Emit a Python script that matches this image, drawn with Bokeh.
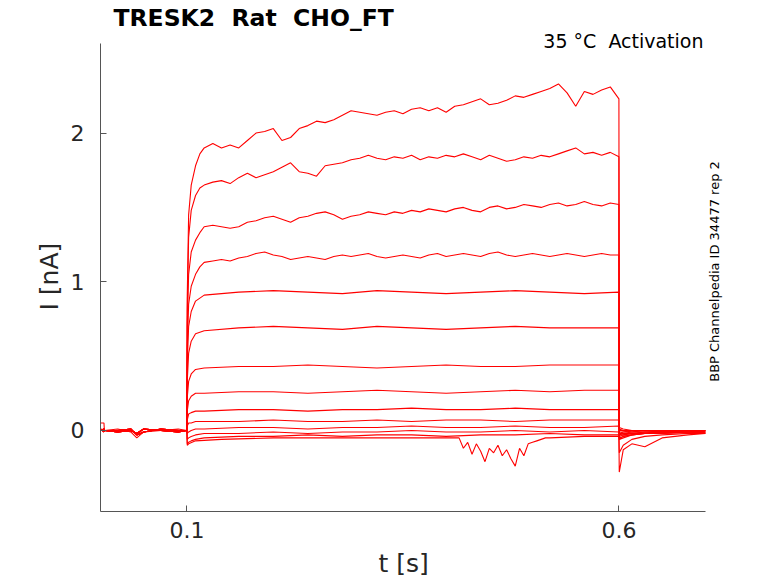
import math

from bokeh.plotting import figure
from bokeh.models import Range1d, FixedTicker, Label, Title
from bokeh.embed import file_html
from bokeh.resources import INLINE

# sample times [s]
t_pre = [0.0, 0.004, 0.0045, 0.02, 0.035, 0.042, 0.05, 0.07, 0.09, 0.0999]
t_fine = [0.1, 0.1004, 0.102, 0.105, 0.11, 0.115,
          0.12, 0.13, 0.14, 0.15, 0.16, 0.17, 0.18, 0.19, 0.20, 0.21,
          0.22, 0.23, 0.24, 0.25, 0.26, 0.27, 0.28, 0.29, 0.30, 0.31,
          0.32, 0.33, 0.34, 0.35, 0.36, 0.37, 0.38, 0.39, 0.40, 0.41,
          0.42, 0.43, 0.44, 0.45, 0.46, 0.47, 0.48, 0.49, 0.50, 0.51,
          0.52, 0.53, 0.54, 0.55, 0.56, 0.57, 0.58, 0.59, 0.60]
t_coarse = [0.1, 0.1004, 0.102, 0.105, 0.11, 0.12, 0.16, 0.20, 0.24,
            0.28, 0.32, 0.36, 0.40, 0.44, 0.48, 0.52, 0.56, 0.60]
t_burst = [0.1, 0.1004, 0.102, 0.11, 0.14, 0.20, 0.26, 0.32, 0.38, 0.415,
           0.42, 0.425, 0.43, 0.435, 0.44, 0.445, 0.45, 0.455, 0.46, 0.465,
           0.47, 0.475, 0.48, 0.485, 0.49, 0.495, 0.50, 0.505, 0.51, 0.515,
           0.52, 0.56, 0.60]
t_post = [0.6004, 0.605, 0.615, 0.63, 0.65, 0.68, 0.70]

# holding current before the step [nA]
pre_a = [0.05, 0.05, 0.0, 0.01, -0.01, -0.05, -0.01, 0.0, 0.01, 0.0]
pre_b = [0.0, 0.01, 0.0, -0.01, 0.0, -0.02, 0.01, 0.0, -0.01, 0.0]
pre_c = [0.01, -0.01, 0.0, 0.0, 0.01, -0.03, -0.01, 0.01, 0.0, 0.0]

# currents during the step [nA]
i1 = [0.0, 0.9, 1.45, 1.65, 1.78, 1.86,
      1.90, 1.93, 1.90, 1.92, 1.90, 1.95, 2.00, 2.01, 2.03, 1.95,
      1.97, 2.03, 2.05, 2.08, 2.07, 2.09, 2.12, 2.15, 2.14, 2.13,
      2.12, 2.14, 2.15, 2.13, 2.16, 2.17, 2.15, 2.17, 2.14, 2.18,
      2.19, 2.21, 2.23, 2.19, 2.20, 2.22, 2.25, 2.24, 2.26, 2.28,
      2.30, 2.33, 2.27, 2.18, 2.28, 2.26, 2.29, 2.31, 2.23]
i2 = [0.0, 0.8, 1.3, 1.48, 1.58, 1.63,
      1.65, 1.67, 1.68, 1.66, 1.70, 1.73, 1.70, 1.72, 1.74, 1.77,
      1.80, 1.74, 1.73, 1.71, 1.78, 1.79, 1.80, 1.82, 1.83, 1.85,
      1.83, 1.82, 1.84, 1.83, 1.85, 1.82, 1.84, 1.83, 1.85, 1.84,
      1.86, 1.84, 1.82, 1.85, 1.83, 1.81, 1.82, 1.84, 1.83, 1.85,
      1.84, 1.86, 1.88, 1.90, 1.86, 1.87, 1.85, 1.87, 1.84]
i3 = [0.0, 0.7, 1.05, 1.2, 1.28, 1.33,
      1.37, 1.38, 1.37, 1.36, 1.37, 1.40, 1.41, 1.43, 1.44, 1.42,
      1.40, 1.43, 1.44, 1.46, 1.47, 1.45, 1.42, 1.44, 1.45, 1.47,
      1.46, 1.45, 1.47, 1.46, 1.48, 1.47, 1.49, 1.48, 1.47, 1.49,
      1.50, 1.48, 1.47, 1.50, 1.51, 1.49, 1.50, 1.52, 1.51, 1.50,
      1.52, 1.53, 1.51, 1.52, 1.54, 1.52, 1.51, 1.53, 1.52]
i4 = [0.0, 0.55, 0.85, 0.97, 1.05, 1.10,
      1.13, 1.14, 1.15, 1.14, 1.16, 1.17, 1.19, 1.20, 1.18, 1.17,
      1.15, 1.16, 1.17, 1.16, 1.15, 1.17, 1.18, 1.17, 1.18, 1.19,
      1.17, 1.16, 1.17, 1.18, 1.17, 1.16, 1.18, 1.19, 1.17, 1.18,
      1.19, 1.18, 1.17, 1.19, 1.20, 1.18, 1.17, 1.18, 1.19, 1.18,
      1.17, 1.18, 1.19, 1.18, 1.17, 1.18, 1.19, 1.18, 1.18]
i5 = [0.0, 0.45, 0.70, 0.80, 0.87, 0.91, 0.93, 0.94, 0.93, 0.92, 0.94, 0.93, 0.92, 0.93, 0.94, 0.93, 0.92, 0.93]
i6 = [0.0, 0.33, 0.52, 0.60, 0.65, 0.67, 0.69, 0.70, 0.69, 0.68, 0.70, 0.69, 0.68, 0.69, 0.70, 0.69, 0.69, 0.69]
i7 = [0.0, 0.22, 0.33, 0.38, 0.41, 0.42, 0.43, 0.43, 0.44, 0.43, 0.42, 0.43, 0.44, 0.43, 0.43, 0.44, 0.44, 0.44]
i8 = [0.0, 0.13, 0.20, 0.23, 0.25, 0.25, 0.26, 0.26, 0.25, 0.26, 0.27, 0.26, 0.25, 0.26, 0.27, 0.26, 0.27, 0.27]
i9 = [0.0, 0.07, 0.11, 0.12, 0.13, 0.13, 0.14, 0.14, 0.13, 0.14, 0.14, 0.15, 0.14, 0.14, 0.15, 0.14, 0.14, 0.14]
i10 = [0.0, 0.03, 0.05, 0.05, 0.06, 0.06, 0.06, 0.07, 0.06, 0.06, 0.07, 0.06, 0.07, 0.07, 0.06, 0.07, 0.07, 0.07]
i11 = [0.0, -0.02, -0.01, 0.0, 0.01, 0.01, 0.02, 0.02, 0.01, 0.02, 0.02, 0.03, 0.02, 0.02, 0.03, 0.02, 0.02, 0.03]
i12 = [0.0, -0.06, -0.05, -0.04, -0.03, -0.02, -0.02, -0.01, -0.02, -0.01, -0.01, 0.0, -0.01, -0.01, 0.0, -0.01, 0.0, -0.01]
i13 = [0.0, -0.09, -0.08, -0.07, -0.06, -0.05, -0.04, -0.04, -0.03, -0.04, -0.03, -0.03, -0.04, -0.03, -0.03, -0.02, -0.03, -0.03]
i14 = [0.0, -0.10, -0.09, -0.07, -0.06, -0.05, -0.05, -0.05, -0.05, -0.05,
       -0.12, -0.08, -0.16, -0.09, -0.14, -0.21, -0.12, -0.15, -0.10, -0.17,
       -0.13, -0.19, -0.24, -0.12, -0.17, -0.09, -0.08, -0.07, -0.06, -0.05,
       -0.05, -0.04, -0.04]

# tail currents after the step [nA]
post1 = [-0.06, -0.04, -0.03, -0.02, -0.02, -0.01, -0.02]
post2 = [-0.05, -0.04, -0.03, -0.02, -0.01, -0.02, -0.01]
post3 = [-0.04, -0.03, -0.02, -0.02, -0.01, -0.01, -0.01]
post4 = [-0.03, -0.03, -0.02, -0.01, -0.02, -0.01, -0.01]
post5 = [-0.03, -0.02, -0.02, -0.01, -0.01, -0.01, 0.0]
post6 = [-0.02, -0.02, -0.01, -0.01, -0.01, 0.0, -0.01]
post7 = [-0.02, -0.01, -0.01, 0.0, -0.01, 0.0, 0.0]
post8 = [-0.01, -0.01, 0.0, 0.0, -0.01, 0.0, 0.0]
post9 = [0.0, 0.0, -0.01, 0.0, 0.0, -0.01, 0.0]
post10 = [0.01, 0.0, 0.0, 0.0, -0.01, 0.0, 0.0]
post11 = [0.02, 0.01, 0.0, 0.0, 0.0, 0.0, -0.01]
post12 = [-0.06, -0.05, -0.03, -0.02, -0.02, -0.01, -0.01]
post13 = [-0.15, -0.10, -0.06, -0.04, -0.03, -0.02, -0.02]
post14 = [-0.28, -0.13, -0.09, -0.11, -0.05, -0.03, -0.02]

x_ticks = [0.1, 0.6]
y_ticks = [0, 1, 2]
x_axis_span = (0.0, 0.7)
y_axis_span = (-0.545, 2.6)

traces = [
    (pre_a, t_fine, i1, post1),
    (pre_b, t_fine, i2, post2),
    (pre_c, t_fine, i3, post3),
    (pre_b, t_fine, i4, post4),
    (pre_c, t_coarse, i5, post5),
    (pre_b, t_coarse, i6, post6),
    (pre_c, t_coarse, i7, post7),
    (pre_b, t_coarse, i8, post8),
    (pre_c, t_coarse, i9, post9),
    (pre_b, t_coarse, i10, post10),
    (pre_c, t_coarse, i11, post11),
    (pre_b, t_coarse, i12, post12),
    (pre_c, t_coarse, i13, post13),
    (pre_b, t_burst, i14, post14),
]

# frame reaches the top/right canvas edges so the texts there are not clipped;
# the axes themselves are cut to the real data span with `bounds`
p = figure(width=778, height=583, output_backend="svg", toolbar_location=None,
           x_range=Range1d(0.0, 0.7847), y_range=Range1d(-0.545, 2.8913),
           min_border_left=100, min_border_right=0,
           min_border_top=0, min_border_bottom=71)
p.outline_line_color = None
p.grid.visible = False

for pre, ts, vs, post in traces:
    xs = t_pre + ts + t_post
    ys = pre + vs + post
    p.line(xs, ys, color="#ff0000", line_width=1.1)

font = "DejaVu Sans"
for ax in (p.xaxis[0], p.yaxis[0]):
    ax.axis_line_color = "#555555"
    ax.major_tick_line_color = "#555555"
    ax.major_tick_in = 6
    ax.major_tick_out = 0
    ax.minor_tick_line_color = None
    ax.major_label_text_font = font
    ax.major_label_text_font_size = "22px"
    ax.major_label_text_color = "#262626"

p.xaxis.bounds = x_axis_span
p.yaxis.bounds = y_axis_span
p.xaxis.ticker = FixedTicker(ticks=x_ticks)
p.yaxis.ticker = FixedTicker(ticks=y_ticks)
p.xaxis.major_label_standoff = 10
p.yaxis.major_label_standoff = 16

# axis names as titles, so they can be centred on the axis span, not the frame
p.add_layout(Title(text="t [s]", align="left", offset=278, standoff=12,
                   text_font=font, text_font_size="25px", text_font_style="normal",
                   text_color="#262626"), "below")
p.add_layout(Title(text="I [nA]", align="left", offset=201, standoff=8,
                   text_font=font, text_font_size="25px", text_font_style="normal",
                   text_color="#262626"), "left")

p.add_layout(Label(x=0.015, y=2.772, text="TRESK2\u00a0 Rat\u00a0 CHO_FT",
                   text_font=font, text_font_size="23.5px", text_font_style="bold",
                   text_color="black", text_baseline="alphabetic"))
p.add_layout(Label(x=0.6979, y=2.62, text="35 °C\u00a0 Activation",
                   text_font=font, text_font_size="19px", text_color="black",
                   text_align="right", text_baseline="alphabetic"))
p.add_layout(Label(x=0.7106, y=1.069, text="BBP Channelpedia ID 34477 rep 2",
                   angle=math.pi / 2, text_font=font, text_font_size="13px",
                   text_color="black", text_align="center", text_baseline="middle"))

open("out.html", "w").write(file_html(p, INLINE))
